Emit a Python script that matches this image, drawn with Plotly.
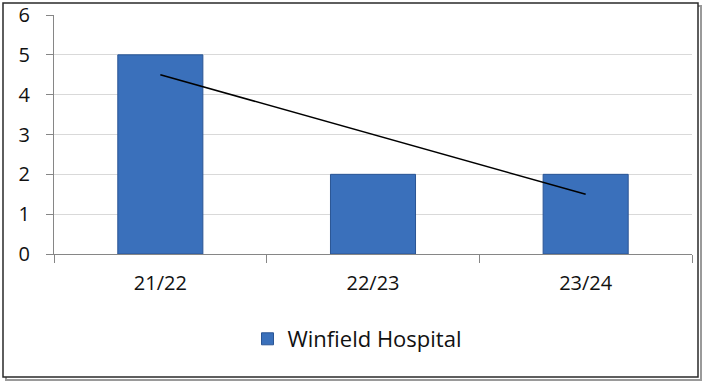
import numpy as np
import plotly.graph_objects as go

# Incident counts per financial year
years = ["21/22", "22/23", "23/24"]
counts = [5, 2, 2]
series_name = "Winfield Hospital"
y_ticks = [0, 1, 2, 3, 4, 5, 6]

# Linear trend through the yearly counts
idx = np.arange(1, len(counts) + 1)
slope, intercept = np.polyfit(idx, counts, 1)
trend = slope * idx + intercept

W, H = 703, 381
ml, mr, mt, mb = 54, 11, 15, 127
pw, ph = W - ml - mr, H - mt - mb

def px_x(x):
    return (x - ml) / pw

def px_y(y):
    return (H - mb - y) / ph

fig = go.Figure()
fig.add_trace(go.Bar(
    x=years, y=counts, name=series_name, width=0.4,
    marker=dict(color="#3a70bb", line=dict(color="#2a5594", width=1)),
))
fig.add_trace(go.Scatter(
    x=years, y=trend, mode="lines", showlegend=False,
    line=dict(color="black", width=1.5), hoverinfo="skip",
))

shapes = [
    # drop shadow of the chart frame
    dict(type="rect", xref="paper", yref="paper",
         x0=px_x(6), x1=px_x(701), y0=px_y(6), y1=px_y(380),
         line=dict(color="#9a9a9a", width=2), fillcolor="rgba(0,0,0,0)", layer="below"),
    # chart frame
    dict(type="rect", xref="paper", yref="paper",
         x0=px_x(3), x1=px_x(698), y0=px_y(3), y1=px_y(377),
         line=dict(color="#2a2a2a", width=1.5), fillcolor="white", layer="below"),
]

fig.update_layout(
    width=W, height=H,
    margin=dict(l=ml, r=mr, t=mt, b=mb, autoexpand=False),
    paper_bgcolor="white", plot_bgcolor="rgba(0,0,0,0)",
    font=dict(family="Open Sans, Liberation Sans, sans-serif", size=20, color="#111111"),
    bargap=0.6,
    shapes=shapes,
    showlegend=True,
    legend=dict(orientation="h", x=px_x(357), xanchor="center", y=px_y(339), yanchor="middle",
                font=dict(size=22), itemwidth=30, bgcolor="rgba(0,0,0,0)"),
    xaxis=dict(
        type="category", showgrid=False, showline=True, linecolor="#868686", linewidth=1,
        ticks="outside", tickson="boundaries", ticklen=8, tickcolor="#868686",
        mirror=False, zeroline=False, automargin=False, ticklabelstandoff=11,
    ),
    yaxis=dict(
        range=[0, 6], tickvals=y_ticks, showgrid=True, gridcolor="#d9d9d9", gridwidth=1,
        showline=True, linecolor="#868686", linewidth=1, ticks="outside", ticklen=7,
        tickcolor="#868686", zeroline=False, ticklabelstandoff=12, automargin=False,
    ),
)

fig.write_html("out.html")
